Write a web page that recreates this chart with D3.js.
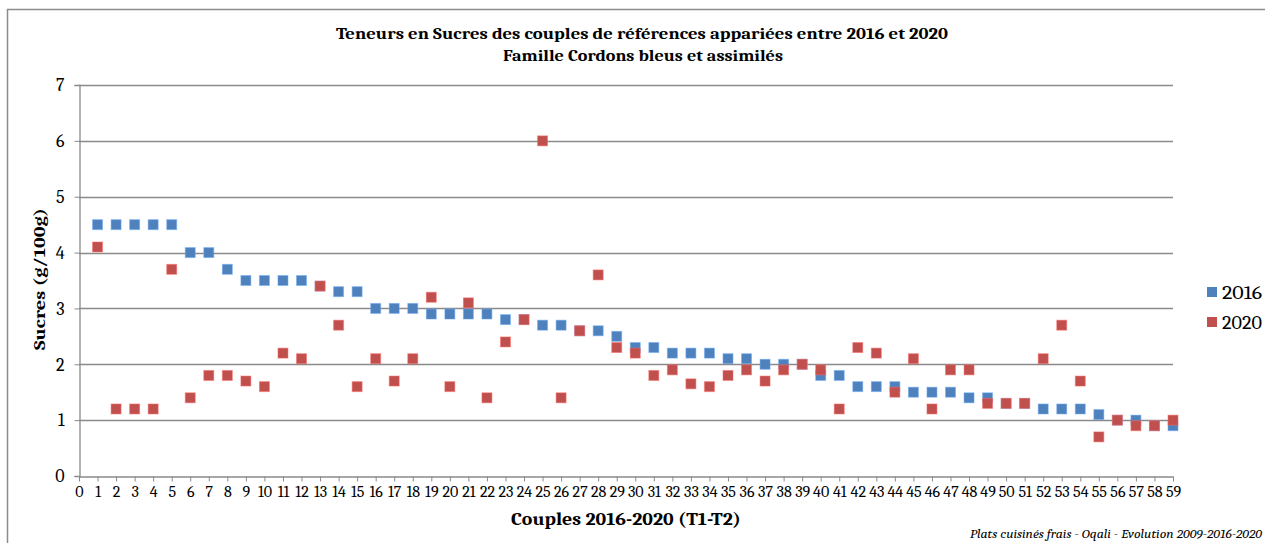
<!DOCTYPE html>
<html>
<head>
<meta charset="utf-8">
<script src="https://cdn.jsdelivr.net/npm/d3@7"></script>
<style>
  body { margin: 0; background: #fff; }
  svg text { font-family: Cambria, "Liberation Serif", "DejaVu Serif", serif; fill: #000; }
</style>
</head>
<body>
<svg id="chart" width="1265" height="543"></svg>
<script>
// values, couple n = index + 1
let couples = d3.range(1, 60);
let sucres2016 = [4.5, 4.5, 4.5, 4.5, 4.5, 4.0, 4.0, 3.7, 3.5, 3.5,
                  3.5, 3.5, 3.4, 3.3, 3.3, 3.0, 3.0, 3.0, 2.9, 2.9,
                  2.9, 2.9, 2.8, 2.8, 2.7, 2.7, 2.6, 2.6, 2.5, 2.3,
                  2.3, 2.2, 2.2, 2.2, 2.1, 2.1, 2.0, 2.0, 2.0, 1.8,
                  1.8, 1.6, 1.6, 1.6, 1.5, 1.5, 1.5, 1.4, 1.4, 1.3,
                  1.3, 1.2, 1.2, 1.2, 1.1, 1.0, 1.0, 0.9, 0.9];
let sucres2020 = [4.1, 1.2, 1.2, 1.2, 3.7, 1.4, 1.8, 1.8, 1.7, 1.6,
                  2.2, 2.1, 3.4, 2.7, 1.6, 2.1, 1.7, 2.1, 3.2, 1.6,
                  3.1, 1.4, 2.4, 2.8, 6.0, 1.4, 2.6, 3.6, 2.3, 2.2,
                  1.8, 1.9, 1.65, 1.6, 1.8, 1.9, 1.7, 1.9, 2.0, 1.9,
                  1.2, 2.3, 2.2, 1.5, 2.1, 1.2, 1.9, 1.9, 1.3, 1.3,
                  1.3, 2.1, 2.7, 1.7, 0.7, 1.0, 0.9, 0.9, 1.0];
let seriesNames = ['2016', '2020'];
let seriesColors = ['#4F81BD', '#C0504D'];
let xTicks = d3.range(0, 60);
let yTicks = d3.range(0, 8);

let titleLines = ['Teneurs en Sucres des couples de références appariées entre 2016 et 2020',
                  'Famille Cordons bleus et assimilés'];

let svg = d3.select('#chart');
let margin = {left: 79, right: 1173, top: 85, bottom: 476};

let x = d3.scaleLinear().domain([0, 59]).range([margin.left, margin.right]);
let y = d3.scaleLinear().domain([0, 7]).range([margin.bottom, margin.top]);

// outer chart frame (right / bottom edges fall outside the picture)
svg.append('rect')
  .attr('x', 7.5).attr('y', 9.5)
  .attr('width', 1300).attr('height', 600)
  .attr('fill', 'none')
  .attr('stroke', '#8c8c8c')
  .attr('stroke-width', 1.5);

// gridlines
svg.append('g')
  .selectAll('line')
  .data(yTicks.filter(d => d > 0))
  .enter()
  .append('line')
  .attr('x1', margin.left).attr('x2', margin.right)
  .attr('y1', d => Math.round(y(d)) + 0.5)
  .attr('y2', d => Math.round(y(d)) + 0.5)
  .attr('stroke', '#8a8a8a')
  .attr('stroke-width', 1.3);

// y axis
let yAxis = svg.append('g')
  .attr('transform', `translate(${margin.left + 0.5},0)`)
  .call(d3.axisLeft(y).tickValues(yTicks).tickSize(5).tickPadding(10).tickFormat(d3.format('d')));
yAxis.select('.domain').attr('stroke', '#8a8a8a').attr('stroke-width', 1.3);
yAxis.selectAll('.tick line').attr('stroke', '#8a8a8a');
yAxis.selectAll('.tick text').style('font-size', '18px').attr('fill', '#000');

// x axis
let xAxis = svg.append('g')
  .attr('transform', `translate(0,${margin.bottom + 0.5})`)
  .call(d3.axisBottom(x).tickValues(xTicks).tickSize(5).tickSizeOuter(0).tickPadding(4).tickFormat(d3.format('d')));
xAxis.select('.domain').attr('stroke', '#8a8a8a').attr('stroke-width', 1.3);
xAxis.selectAll('.tick line').attr('stroke', '#8a8a8a');
xAxis.selectAll('.tick text').style('font-size', '16px').attr('fill', '#000');

// markers
let size = 10;
let series = [sucres2016, sucres2020];
series.forEach((vals, si) => {
  svg.append('g')
    .selectAll('rect')
    .data(vals)
    .enter()
    .append('rect')
    .attr('x', (d, i) => x(couples[i]) - size / 2)
    .attr('y', d => y(d) - size / 2)
    .attr('width', size)
    .attr('height', size)
    .attr('fill', seriesColors[si])
    .attr('stroke', d3.color(seriesColors[si]).brighter(0.8))
    .attr('stroke-opacity', 0.5)
    .attr('stroke-width', 1);
});

// title
svg.append('text')
  .attr('x', 642).attr('y', 39)
  .attr('text-anchor', 'middle')
  .attr('textLength', 612).attr('lengthAdjust', 'spacingAndGlyphs')
  .style('font-size', '17px').style('font-weight', 'bold')
  .text(titleLines[0]);
svg.append('text')
  .attr('x', 643).attr('y', 61)
  .attr('text-anchor', 'middle')
  .attr('textLength', 280).attr('lengthAdjust', 'spacingAndGlyphs')
  .style('font-size', '17px').style('font-weight', 'bold')
  .text(titleLines[1]);

// axis titles
svg.append('text')
  .attr('transform', 'translate(45,279) rotate(-90)')
  .attr('text-anchor', 'middle')
  .attr('textLength', 142).attr('lengthAdjust', 'spacingAndGlyphs')
  .style('font-size', '17px').style('font-weight', 'bold')
  .text('Sucres  (g/100g)');
svg.append('text')
  .attr('x', 626).attr('y', 525)
  .attr('text-anchor', 'middle')
  .attr('textLength', 230).attr('lengthAdjust', 'spacingAndGlyphs')
  .style('font-size', '18px').style('font-weight', 'bold')
  .text('Couples 2016-2020 (T1-T2)');

// legend
let legend = svg.append('g').attr('transform', 'translate(1212,292)');
seriesNames.forEach((name, i) => {
  legend.append('rect')
    .attr('x', -5).attr('y', i * 30 - 5)
    .attr('width', 10).attr('height', 10)
    .attr('fill', seriesColors[i]);
  legend.append('text')
    .attr('x', 10).attr('y', i * 30 + 7)
    .attr('textLength', 40).attr('lengthAdjust', 'spacingAndGlyphs')
    .style('font-size', '19px')
    .text(name);
});

// source note
svg.append('text')
  .attr('x', 1262).attr('y', 538)
  .attr('text-anchor', 'end')
  .attr('textLength', 292).attr('lengthAdjust', 'spacingAndGlyphs')
  .style('font-size', '12.5px').style('font-style', 'italic')
  .text('Plats cuisinés frais - Oqali - Evolution 2009-2016-2020');
</script>
</body>
</html>
